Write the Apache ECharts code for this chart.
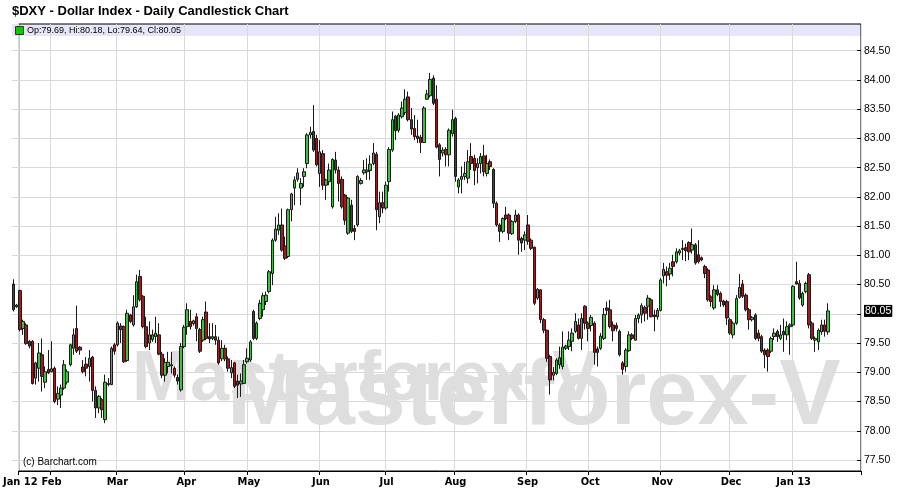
<!DOCTYPE html>
<html>
<head>
<meta charset="utf-8">
<script src="https://cdn.jsdelivr.net/npm/echarts@6/dist/echarts.min.js"></script>
<style>
html,body{margin:0;padding:0;background:#fff;}
#chart{width:898px;height:494px;}
</style>
</head>
<body>
<div id="chart"></div>
<script>
// ---- Data ----
const titleText = '$DXY - Dollar Index - Daily Candlestick Chart';
const legendText = 'Op:79.69, Hi:80.18, Lo:79.64, Cl:80.05';
const lastClose = 80.05;
const monthLabels = ['Jan 12','Feb','Mar','Apr','May','Jun','Jul','Aug','Sep','Oct','Nov','Dec','Jan 13'];
const monthStartIdx = [0,10,31,53,73,96,117,139,162,182,205,227,247];
const totalSlots = 269;
const yTicks = {min: 77.5, max: 84.5, step: 0.5};

const opens = [
80.51,80.12,80.40,79.75,79.81,79.53,79.53,78.90,79.07,79.30,
78.83,79.05,79.01,79.07,78.54,78.61,78.73,78.83,79.13,79.41,
79.75,79.43,79.09,79.14,79.10,79.26,78.69,78.39,78.53,78.19,
78.81,78.79,79.47,79.47,79.79,79.78,79.20,79.98,79.81,80.12,
80.64,80.30,79.78,79.50,79.56,79.61,79.64,79.31,78.95,79.10,
79.11,79.07,78.91,78.70,79.44,79.78,79.87,79.83,79.95,79.73,
79.55,80.03,79.61,79.58,79.61,79.55,79.23,79.41,79.23,78.99,
79.16,78.85,78.80,78.81,79.18,79.21,80.04,79.58,79.92,80.07,
80.21,80.38,80.69,81.26,81.43,81.52,81.16,80.98,81.78,82.15,
82.30,82.15,82.35,82.57,83.06,83.12,83.00,82.40,82.74,82.20,
82.26,81.83,82.63,82.46,82.30,82.03,81.38,81.86,81.46,81.52,
82.23,82.41,82.43,82.45,82.57,82.73,81.66,81.90,81.81,82.26,
82.80,83.38,83.14,83.37,83.44,83.71,83.32,83.17,83.04,83.02,
82.93,83.67,83.73,84.03,83.67,82.89,82.75,82.81,82.72,83.08,
83.34,82.17,82.30,82.35,82.32,82.69,82.66,82.50,82.57,82.70,
82.40,82.60,82.47,81.89,81.52,81.41,81.69,81.69,81.37,81.58,
81.69,81.29,81.26,81.52,81.26,81.14,80.27,80.41,79.90,79.72,
79.27,78.95,78.98,79.13,79.10,79.41,79.44,79.53,79.70,79.81,
79.58,80.13,79.84,79.80,79.84,79.40,79.41,79.58,80.10,80.07,
79.81,79.80,79.70,79.16,79.10,79.37,79.64,79.55,79.92,79.98,
80.11,80.13,80.24,79.98,79.95,80.06,80.65,80.72,80.68,80.89,
80.89,81.04,81.10,81.13,81.22,81.09,81.18,81.01,80.96,80.81,
80.75,80.29,80.10,80.41,80.35,80.22,80.21,79.90,79.64,79.84,
80.28,80.51,80.32,80.07,79.90,79.98,79.67,79.61,79.38,79.38,
79.36,79.61,79.70,79.58,79.70,79.64,79.78,79.81,80.55,80.52,
80.15,80.38,80.67,79.84,79.55,79.52,79.69,79.81,79.69
];
const highs = [
80.59,80.17,80.41,79.90,79.84,79.55,79.55,79.18,79.50,79.58,
79.10,79.38,79.53,79.10,78.76,78.79,79.21,79.05,79.49,79.75,
80.14,79.45,79.21,79.26,79.38,79.28,78.76,78.61,78.56,78.96,
78.90,79.44,79.50,79.87,79.84,79.80,80.07,80.00,80.32,80.67,
80.75,80.32,79.95,79.87,79.73,79.95,79.84,79.35,79.24,79.35,
79.35,79.10,78.96,79.50,79.81,80.18,80.07,79.90,80.01,79.76,
79.95,80.21,79.84,79.84,79.81,79.61,79.55,79.47,79.27,79.21,
79.18,78.96,78.98,79.21,79.41,79.55,80.07,79.87,80.24,80.36,
80.38,80.75,81.29,81.66,81.72,81.80,81.32,81.80,82.07,82.35,
82.49,82.32,82.49,83.09,83.20,83.57,83.06,82.97,82.80,82.31,
82.57,82.66,82.77,82.52,82.35,82.05,82.00,81.95,81.52,82.37,
82.32,82.63,82.66,82.71,82.92,82.77,82.09,82.09,82.26,82.85,
83.46,83.40,83.43,83.63,83.84,83.80,83.52,83.40,83.32,83.06,
83.55,83.83,84.12,84.08,83.91,82.92,82.85,82.85,83.17,83.49,
83.37,82.32,82.52,82.60,82.80,82.92,82.72,82.66,82.75,82.89,
82.72,82.64,82.49,81.92,81.55,81.65,81.83,81.72,81.60,81.78,
81.72,81.32,81.41,81.69,81.29,81.15,80.44,80.42,79.93,79.73,
79.30,79.09,79.24,79.44,79.70,79.47,79.70,79.75,80.01,79.92,
80.01,80.15,79.87,79.98,79.87,79.44,79.67,80.10,80.21,80.24,
79.87,79.85,79.73,79.19,79.41,79.70,79.67,79.98,80.01,80.18,
80.14,80.32,80.27,80.07,80.10,80.61,80.87,80.81,80.87,81.01,
81.12,81.11,81.26,81.20,81.24,81.46,81.21,81.26,80.98,80.84,
80.78,80.32,80.49,80.49,80.38,80.24,80.24,79.93,79.87,80.32,
80.68,80.58,80.35,80.10,79.96,80.01,79.73,79.64,79.41,79.41,
79.61,79.75,79.73,79.81,79.92,79.87,79.84,80.49,80.89,80.58,
80.38,80.55,80.70,79.87,79.61,79.75,79.90,79.90,80.18
];
const lows = [
80.04,80.10,79.70,79.64,79.47,79.41,78.79,78.79,78.84,78.67,
78.73,78.97,79.00,78.47,78.44,78.39,78.70,78.79,79.10,79.30,
79.33,79.30,78.98,78.93,78.84,78.50,78.22,78.30,78.22,78.13,
78.76,78.78,79.30,79.44,79.50,79.16,79.18,79.84,79.78,80.10,
80.21,79.75,79.41,79.38,79.52,79.50,79.29,78.90,78.84,78.98,
78.98,78.91,78.79,78.67,79.41,79.64,79.73,79.80,79.53,79.33,
79.52,79.55,79.50,79.55,79.47,79.13,79.19,79.19,79.01,78.90,
78.73,78.56,78.58,78.80,79.15,79.18,79.55,79.55,79.89,79.95,
80.15,80.35,80.49,81.23,81.35,81.06,80.92,80.95,81.58,81.86,
82.26,81.86,82.17,82.49,83.00,82.77,82.52,82.17,82.12,81.95,
82.20,81.80,82.40,81.92,81.80,81.52,81.35,81.38,81.26,81.49,
82.21,82.38,82.29,82.29,82.54,81.43,81.55,81.72,81.78,82.09,
82.77,82.97,83.10,83.34,83.40,83.29,83.06,82.97,82.92,82.75,
82.92,83.66,83.70,83.57,82.83,82.35,82.69,82.52,82.52,83.03,
82.26,82.06,82.06,82.29,82.23,82.46,82.20,82.23,82.40,82.35,
82.35,82.46,81.81,81.49,81.23,81.38,81.60,81.26,81.35,81.55,
81.01,81.06,81.09,81.18,81.09,80.15,80.24,79.84,79.67,79.18,
78.62,78.86,78.95,79.06,79.05,79.38,79.38,79.36,79.67,79.56,
79.38,79.73,79.53,79.70,79.13,79.10,79.38,79.55,79.98,79.75,
79.53,79.70,79.27,78.96,79.01,79.35,79.55,79.54,79.84,79.84,
79.87,79.90,79.94,79.70,79.90,80.04,80.52,80.47,80.58,80.64,
80.86,81.00,80.92,80.90,80.92,81.03,80.84,80.86,80.90,80.61,
80.21,80.12,80.07,80.30,80.12,80.12,79.81,79.64,79.58,79.81,
80.26,80.27,80.04,79.73,79.87,79.55,79.53,79.33,79.07,79.01,
79.33,79.55,79.52,79.55,79.35,79.55,79.30,79.78,80.50,80.24,
80.12,80.35,79.75,79.55,79.35,79.38,79.64,79.61,79.64
];
const closes = [
80.07,80.15,79.73,79.87,79.49,79.45,78.81,79.16,79.33,78.93,
79.01,78.99,79.06,78.50,78.64,78.73,79.13,79.01,79.47,79.64,
79.36,79.38,79.01,79.07,79.24,78.69,78.39,78.59,78.36,78.83,
78.79,79.41,79.36,79.84,79.73,79.18,80.01,79.87,80.12,80.55,
80.24,79.78,79.44,79.64,79.64,79.67,79.31,78.95,79.17,79.17,
79.13,78.95,78.85,79.44,79.77,80.07,79.78,79.88,79.75,79.36,
79.90,79.58,79.57,79.61,79.55,79.16,79.41,79.23,79.07,79.08,
78.76,78.78,78.85,79.13,79.24,79.52,79.58,79.84,80.18,80.31,
80.32,80.72,81.26,81.45,81.52,81.09,80.95,81.78,82.05,82.29,
82.41,82.23,82.43,83.06,83.10,82.80,82.55,82.77,82.20,82.29,
82.46,82.64,82.46,82.23,81.83,81.60,81.98,81.41,81.41,82.35,
82.28,82.46,82.46,82.56,82.75,81.78,81.90,81.81,82.20,82.81,
83.32,83.13,83.40,83.52,83.67,83.32,83.16,83.03,83.00,82.93,
83.52,83.76,84.01,83.60,82.85,82.64,82.80,82.72,83.14,83.32,
82.35,82.29,82.35,82.40,82.60,82.57,82.45,82.57,82.69,82.43,
82.57,82.52,81.89,81.52,81.41,81.63,81.63,81.38,81.58,81.69,
81.26,81.21,81.35,81.24,81.12,80.18,80.42,79.90,79.72,79.24,
78.87,79.00,79.21,79.25,79.43,79.45,79.55,79.67,79.87,79.58,
79.92,79.84,79.75,79.94,79.34,79.34,79.62,79.99,80.06,79.78,
79.71,79.75,79.30,79.05,79.38,79.64,79.58,79.92,79.98,80.14,
80.01,80.27,79.95,79.95,80.06,80.58,80.76,80.66,80.78,80.81,
81.06,81.08,81.12,81.08,81.06,81.18,80.87,80.89,80.92,80.69,
80.24,80.21,80.41,80.33,80.21,80.15,79.93,79.67,79.84,80.26,
80.45,80.30,80.07,79.90,79.94,79.58,79.58,79.36,79.30,79.27,
79.58,79.67,79.61,79.64,79.64,79.78,79.81,80.47,80.51,80.27,
80.35,80.52,79.81,79.58,79.58,79.72,79.81,79.70,80.05
];

// ---- Build options ----
const categories = Array.from({length: totalSlots}, (_, i) => String(i));
const candleData = opens.map((o, i) => [o, closes[i], lows[i], highs[i]]);
const isMonthStart = (idx) => monthStartIdx.indexOf(idx) !== -1;

const GRID_LEFT = 12, GRID_RIGHT = 37;
const baseFont = '"Liberation Sans", Arial, sans-serif';
const narrowFont = '"Liberation Sans Narrow", "DejaVu Sans Condensed", "Liberation Sans", sans-serif';

const chart = echarts.init(document.getElementById('chart'), null, {renderer: 'canvas'});
chart.setOption({
  animation: false,
  backgroundColor: '#ffffff',
  title: {
    text: titleText,
    left: 7, top: 0,
    textStyle: {fontSize: 13, fontWeight: 'bold', fontFamily: baseFont, color: '#000'}
  },
  grid: [
    {left: GRID_LEFT, right: GRID_RIGHT, top: 24, bottom: 23, show: true,
     borderColor: '#000', borderWidth: 1, backgroundColor: 'transparent'},
    {left: GRID_LEFT, right: GRID_RIGHT, top: 50.7, bottom: 34}
  ],
  xAxis: [
    {
      type: 'category', gridIndex: 0, data: categories, boundaryGap: true,
      axisLine: {show: true, lineStyle: {color: '#000', width: 1}},
      axisTick: {show: true, interval: (i) => isMonthStart(i), length: 4, lineStyle: {color: '#000'}},
      axisLabel: {
        interval: (i) => isMonthStart(i),
        formatter: (v, i) => { const k = monthStartIdx.indexOf(Number(v)); return k >= 0 ? monthLabels[k] : ''; },
        fontFamily: narrowFont, fontWeight: 'bold', fontSize: 11, color: '#000', margin: 6
      },
      splitLine: {show: true, interval: (i) => isMonthStart(i), lineStyle: {color: '#d9d9d9', width: 1}}
    },
    {
      type: 'category', gridIndex: 1, data: categories, boundaryGap: true,
      axisLine: {show: false}, axisTick: {show: false}, axisLabel: {show: false}, splitLine: {show: false}
    }
  ],
  yAxis: [
    {type: 'value', gridIndex: 0, min: 0, max: 1, show: false},
    {
      type: 'value', gridIndex: 1, position: 'right', scale: true,
      min: yTicks.min, max: yTicks.max, interval: yTicks.step,
      axisLine: {show: false},
      axisTick: {show: true, inside: true, length: 4, lineStyle: {color: '#000'}},
      axisLabel: {formatter: (v) => v.toFixed(2), fontFamily: baseFont, fontSize: 10.5, color: '#000', margin: 3},
      splitLine: {show: true, lineStyle: {color: '#d9d9d9', width: 1}}
    }
  ],
  graphic: [
    {type: 'rect', z: -10, shape: {x: 12, y: 24, width: 849, height: 12}, style: {fill: '#e6e6f8'}},
    {type: 'rect', z: 5, shape: {x: 15.5, y: 26.5, width: 8, height: 8}, style: {fill: '#00cc00', stroke: '#333', lineWidth: 1}},
    {type: 'text', z: 5, x: 27, y: 31, style: {text: legendText, font: '9px ' + baseFont, fill: '#000', textAlign: 'left', textVerticalAlign: 'middle'}},
    {type: 'text', z: 1, x: 227, y: 399, style: {text: 'Masterforex-V', font: 'bold 92px ' + baseFont, fill: '#dedede', textAlign: 'left', textVerticalAlign: 'middle'}},
    {type: 'text', z: 1, x: 132, y: 381, style: {text: 'Masterforex-V', font: 'bold 70px ' + baseFont, fill: '#dedede', textAlign: 'left', textVerticalAlign: 'middle'}},
    {type: 'text', z: 5, x: 23, y: 462, style: {text: '(c) Barchart.com', font: '10px ' + baseFont, fill: '#000', textAlign: 'left', textVerticalAlign: 'middle'}}
  ],
  series: [{
    type: 'candlestick',
    xAxisIndex: 1, yAxisIndex: 1,
    data: candleData,
    barWidth: 3,
    itemStyle: {
      color: '#3fc03f', color0: '#9b1d1d',
      borderColor: '#1a1a1a', borderColor0: '#1a1a1a', borderWidth: 1
    },
    markLine: {
      silent: true, symbol: 'none',
      lineStyle: {color: 'rgba(0,0,0,0)', width: 1, type: 'solid'},
      label: {
        show: true, position: 'end', distance: 3,
        formatter: () => lastClose.toFixed(2),
        backgroundColor: '#000', color: '#fff', padding: [1, 1, 0, 1],
        fontFamily: baseFont, fontSize: 10.5
      },
      data: [{yAxis: lastClose}]
    }
  }]
});
</script>
</body>
</html>
